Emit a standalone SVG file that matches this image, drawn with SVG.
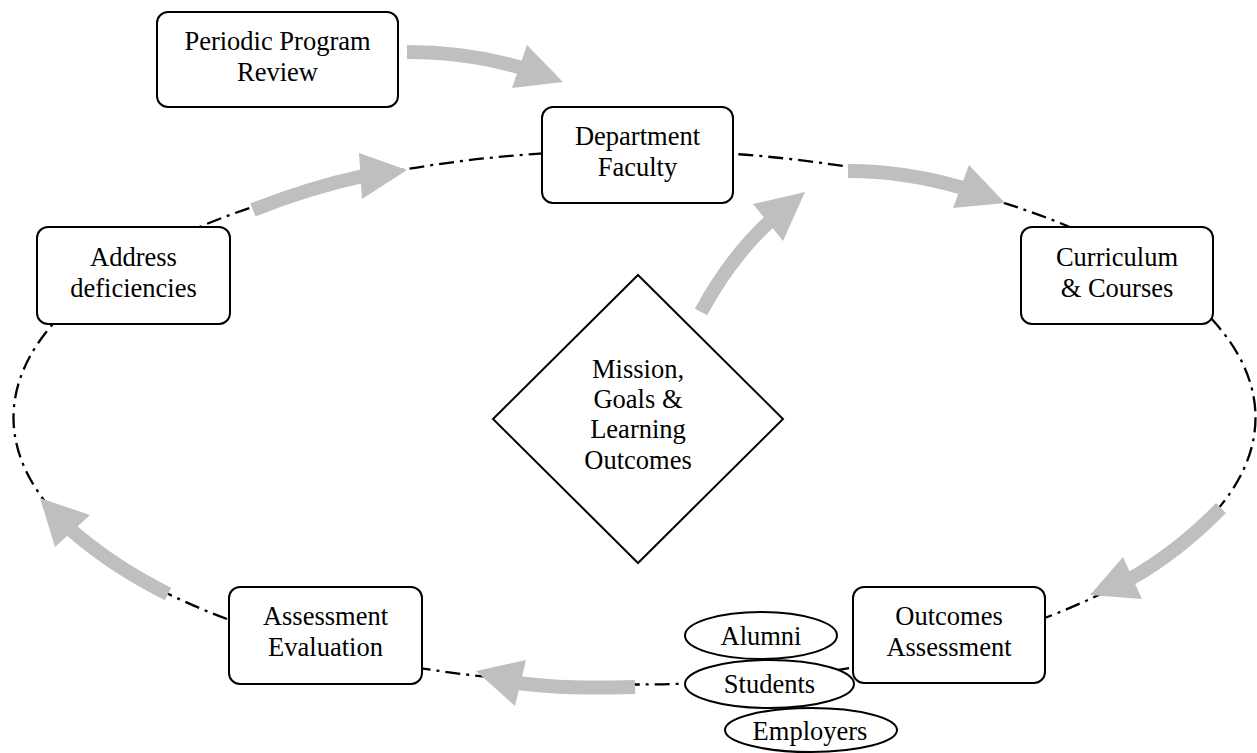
<svg xmlns="http://www.w3.org/2000/svg" width="1257" height="753" viewBox="0 0 1257 753">
<style>
.box{fill:#fff;stroke:#000;stroke-width:2}
.lbl{font-family:"Liberation Serif","Times New Roman",serif;font-size:26.5px;fill:#000;text-anchor:middle}
.loop{fill:none;stroke:#000;stroke-width:2.3;stroke-dasharray:15 6 3 6}
.shaft{fill:none;stroke:#bfbfbf;stroke-width:14;stroke-linecap:butt}
.head{fill:#bfbfbf;stroke:none}
</style>
<rect width="1257" height="753" fill="#fff"/>
<g id="connectors">
<ellipse class="loop" cx="634.5" cy="417.5" rx="621" ry="267"/>
<path class="shaft" d="M407,52 Q468,52 522,68"/>
<polygon class="head" points="563,82 527,45 512,88"/>
<path class="shaft" d="M253,210 Q308,188 363,176"/>
<polygon class="head" points="407,170 359,153 362,199"/>
<path class="shaft" d="M848,171 Q905,171 963,188"/>
<polygon class="head" points="1005,203 969,165 953,208"/>
<path class="shaft" d="M701,312 Q730,258 770,221"/>
<polygon class="head" points="805,192 753,204 783,241"/>
<path class="shaft" d="M1221,508 Q1178,552 1130,579"/>
<polygon class="head" points="1090,595 1123,557 1142,599"/>
<path class="shaft" d="M635,687 C590,688 555,688 518,683"/>
<polygon class="head" points="476,671 526,660 515,706"/>
<path class="shaft" d="M168,594 Q112,566 70,529"/>
<polygon class="head" points="40,498 90,515 55,547"/>
</g>
<g id="periodic-review">
<rect class="box" x="157" y="12" width="241" height="95" rx="11"/>
<text class="lbl" x="277.5" y="50">Periodic Program</text>
<text class="lbl" x="277.5" y="81">Review</text>
</g>
<g id="department-faculty">
<rect class="box" x="542" y="107" width="191" height="96" rx="11"/>
<text class="lbl" x="637.5" y="145">Department</text>
<text class="lbl" x="637.5" y="176">Faculty</text>
</g>
<g id="curriculum-courses">
<rect class="box" x="1021" y="227" width="192" height="97" rx="11"/>
<text class="lbl" x="1117" y="266">Curriculum</text>
<text class="lbl" x="1117" y="297">&amp; Courses</text>
</g>
<g id="address-deficiencies">
<rect class="box" x="37" y="227" width="193" height="97" rx="11"/>
<text class="lbl" x="133.5" y="266">Address</text>
<text class="lbl" x="133.5" y="297">deficiencies</text>
</g>
<g id="mission">
<polygon class="box" points="638,275 783,419 638,563 493,419"/>
<text class="lbl" x="638" y="378">Mission,</text>
<text class="lbl" x="638" y="408">Goals &amp;</text>
<text class="lbl" x="638" y="438">Learning</text>
<text class="lbl" x="638" y="469">Outcomes</text>
</g>
<g id="assessment-evaluation">
<rect class="box" x="229" y="587" width="193" height="97" rx="11"/>
<text class="lbl" x="325.5" y="625">Assessment</text>
<text class="lbl" x="325.5" y="656">Evaluation</text>
</g>
<g id="outcomes-assessment">
<rect class="box" x="853" y="587" width="192" height="96" rx="11"/>
<text class="lbl" x="949" y="625">Outcomes</text>
<text class="lbl" x="949" y="656">Assessment</text>
</g>
<g id="alumni">
<ellipse class="box" cx="761" cy="635.5" rx="76" ry="23.5"/>
<text class="lbl" x="761" y="645">Alumni</text>
</g>
<g id="students">
<ellipse class="box" cx="769.5" cy="684" rx="84.5" ry="24"/>
<text class="lbl" x="769.5" y="693">Students</text>
</g>
<g id="employers">
<ellipse class="box" cx="811" cy="730" rx="86" ry="22"/>
<text class="lbl" x="810" y="740">Employers</text>
</g>
</svg>
